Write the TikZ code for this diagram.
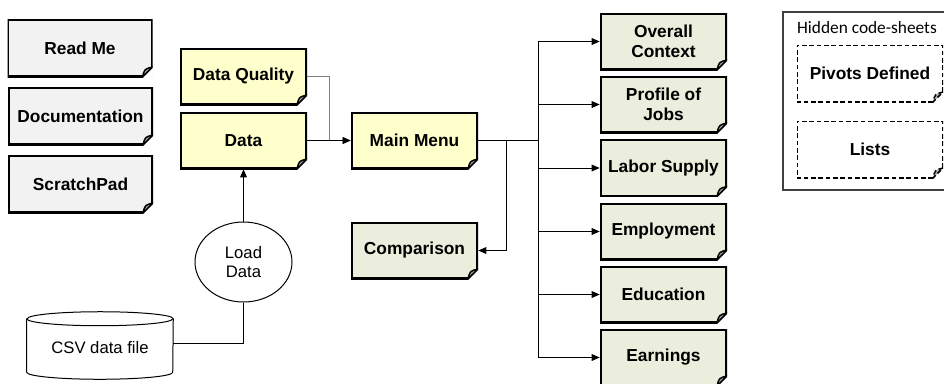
\documentclass[tikz,border=0pt]{standalone}
\usepackage{fontspec}
\setmainfont{Liberation Sans}
\newfontfamily\carlito{Carlito}
\usetikzlibrary{arrows.meta,shapes.geometric}
\definecolor{sheetgray}{HTML}{F2F2F2}
\definecolor{sheetyellow}{HTML}{FFFFCC}
\definecolor{sheetgreen}{HTML}{EBEEDC}

\begin{document}
\begin{tikzpicture}[x=0.75pt, y=-0.75pt,
	dogear/.style={path picture={
		\fill[white] ([xshift=-7.5pt]path picture bounding box.south east) -- (path picture bounding box.south east) -- ([yshift=7.5pt]path picture bounding box.south east) -- cycle;
		\draw[#1] ([xshift=-7.5pt]path picture bounding box.south east) -| (path picture bounding box.north west) -| ([yshift=7.5pt]path picture bounding box.south east);
		\draw[#1, line width=1.1pt, fill=black!35] ([yshift=7.5pt]path picture bounding box.south east) .. controls ([xshift=-6pt,yshift=6pt]path picture bounding box.south east) .. ([xshift=-7.5pt]path picture bounding box.south east) -- cycle;
	}},
	sheetbox/.style={fill=#1, dogear={line width=2.8pt}, inner sep=0pt, minimum width=95.25pt, minimum height=42.75pt, align=center, font=\bfseries\fontsize{13}{15}\selectfont},
	widebox/.style={sheetbox=sheetgray, minimum width=108.75pt, minimum height=43.5pt},
	hiddenbox/.style={sheetbox=white, dogear={line width=1.9pt, dash pattern=on 3.5pt off 2pt}, minimum width=109.5pt},
	conn/.style={line width=0.75pt},
	arrow/.style={conn, -{Triangle[length=6pt,width=5pt]}}]
	\clip (0,0) rectangle (944,383);

	% help sheets
	\node (readme) at (80,48) [widebox] {Read Me};
	\node (doc) at (80.5,116) [widebox] {Documentation};
	\node (scratch) at (80.5,184) [widebox] {ScratchPad};

	% data sheets
	\node (dq) at (243.5,76.5) [sheetbox=sheetyellow] {Data Quality};
	\node (data) at (243.5,140.5) [sheetbox=sheetyellow] {Data};
	\node (menu) at (414.5,140.5) [sheetbox=sheetyellow] {Main Menu};
	\node (comp) at (414.5,250.5) [sheetbox=sheetgreen] {Comparison};

	% report sheets
	\node (overall) at (663.5,41.5) [sheetbox=sheetgreen] {Overall\\Context};
	\node (jobs) at (663.5,104.5) [sheetbox=sheetgreen] {Profile of\\Jobs};
	\node (labor) at (663.5,168) [sheetbox=sheetgreen] {Labor Supply};
	\node (employ) at (663.5,231.5) [sheetbox=sheetgreen] {Employment};
	\node (educ) at (663.5,294.5) [sheetbox=sheetgreen] {Education};
	\node (earn) at (663.5,357.5) [sheetbox=sheetgreen] {Earnings};

	% hidden sheets
	\draw[black!75, line width=0.9pt] (783,12) rectangle (960,190);
	\node (hiddentitle) at (867,28) [font=\carlito\fontsize{13}{15}\selectfont] {Hidden code-sheets};
	\node (pivots) at (870,73.5) [hiddenbox] {Pivots Defined};
	\node (lists) at (870,149.5) [hiddenbox] {Lists};

	% input
	\node (load) at (243.5,262) [draw, conn, ellipse, minimum width=72.75pt, minimum height=60pt, align=center, font=\fontsize{12.5}{14.5}\selectfont] {Load\\Data};
	\node (csv) at (100,343.5) [inner sep=0pt, minimum width=109.5pt, minimum height=47.25pt, font=\fontsize{12.5}{14}\selectfont, yshift=-3pt] {CSV data file};
	\draw[conn] ([yshift=-2.25pt]csv.north west) -- ([yshift=5.25pt]csv.south west) arc[start angle=180, end angle=360, x radius=54.75pt, y radius=5.25pt] -- ([yshift=-2.25pt]csv.north east) arc[start angle=0, end angle=180, x radius=54.75pt, y radius=5.25pt];
	\draw[conn] ([yshift=-2.25pt]csv.north west) arc[start angle=180, end angle=360, x radius=54.75pt, y radius=5.25pt];

	% connectors
	\coordinate (fork) at (506,140.5);
	\coordinate (split) at (538,140.5);
	\draw[conn] ([yshift=3pt]csv.east) -| (load.south);
	\draw[arrow] (load) -- (data);
	\draw[arrow, black!50] (dq.east) -- ++(22,0) |- (menu.west);
	\draw[arrow] (data) -- (menu);
	\draw[conn] (menu.east) -- (split);
	\draw[arrow] (fork) |- (comp.east);
	\draw[arrow] (split) |- (overall.west);
	\draw[arrow] (split) |- (jobs.west);
	\draw[arrow] (split) |- (labor.west);
	\draw[arrow] (split) |- (employ.west);
	\draw[arrow] (split) |- (educ.west);
	\draw[arrow] (split) |- (earn.west);
\end{tikzpicture}
\end{document}
